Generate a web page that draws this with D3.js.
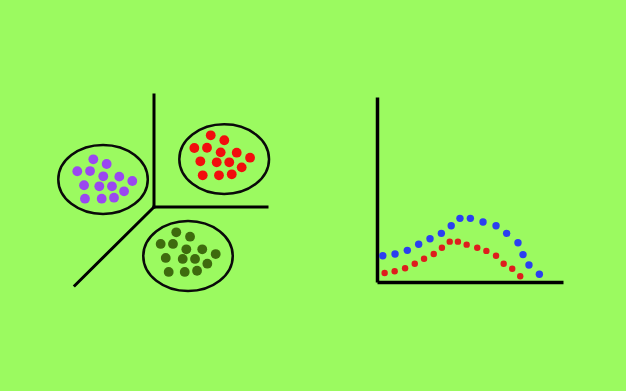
<!DOCTYPE html>
<html>
<head>
<meta charset="utf-8">
<script src="https://cdn.jsdelivr.net/npm/d3@7"></script>
<style>
  html, body { margin: 0; padding: 0; background: #9bfa60; }
  svg { display: block; }
</style>
</head>
<body>
<svg id="chart" width="626" height="391"></svg>
<script>
// ---- data: left panel (clustering), units relative to axis origin ----
var purplePoints = [
  [-5.37, 4.26], [-4.19, 3.84], [-6.79, 3.19], [-5.66, 3.21], [-4.49, 2.74],
  [-3.07, 2.71], [-1.92, 2.32], [-6.19, 1.94], [-4.84, 1.85], [-3.72, 1.85],
  [-2.65, 1.40], [-6.11, 0.74], [-4.63, 0.74], [-3.54, 0.83]
];
var redPoints = [
  [5.02, 6.40], [6.22, 5.96], [3.57, 5.27], [4.69, 5.29], [5.90, 4.88],
  [7.32, 4.85], [8.50, 4.40], [4.10, 4.08], [5.55, 3.99], [6.66, 3.99],
  [7.76, 3.54], [4.31, 2.83], [5.75, 2.83], [6.88, 2.92]
];
var greenPoints = [
  [1.97, -2.26], [3.19, -2.65], [0.59, -3.30], [1.68, -3.30], [2.86, -3.78],
  [4.27, -3.78], [5.46, -4.20], [1.04, -4.55], [2.54, -4.64], [3.63, -4.64],
  [4.72, -5.06], [1.30, -5.80], [2.72, -5.80], [3.81, -5.69]
];
// cluster bounds: centre x, centre y, half-width, half-height
var clusterBounds = [
  [-4.51, 2.46, 3.96, 3.08],
  [6.21, 4.27, 3.97, 3.11],
  [3.01, -4.38, 3.96, 3.13]
];
// three axes out of the origin
var axisEnds = [[0, 10], [10, 0], [-7, -7]];

// ---- data: right panel (two dotted curves) ----
var blueX = [3.1, 9.7, 16.3, 22.4, 28.5, 34.6, 39.9, 44.6, 50.2, 57.0, 64.0, 69.7, 75.8, 78.5, 81.7, 87.3];
var blueY = [14.2, 15.1, 17.1, 20.4, 23.4, 26.3, 30.4, 34.4, 34.4, 32.4, 30.4, 26.3, 21.2, 14.8, 9.2, 4.2];
var redX = [4.1, 9.5, 15.1, 20.3, 25.3, 30.5, 34.9, 39.1, 43.5, 48.2, 53.9, 58.8, 64.0, 68.1, 72.7, 77.0];
var redY = [4.9, 5.8, 7.4, 9.9, 12.6, 15.1, 18.5, 21.8, 21.8, 20.2, 18.5, 16.8, 14.2, 9.9, 7.2, 3.1];

var svg = d3.select("#chart");

// ---------- left panel ----------
var lx = d3.scaleLinear().domain([-10, 10]).range([41, 267]);
var ly = d3.scaleLinear().domain([-10, 10]).range([319, 95]);

var left = svg.append("g").attr("class", "left");

left.selectAll("line.axis")
  .data(axisEnds)
  .enter().append("line")
  .attr("class", "axis")
  .attr("x1", lx(0)).attr("y1", ly(0))
  .attr("x2", function (d) { return lx(d[0]); })
  .attr("y2", function (d) { return ly(d[1]); })
  .attr("stroke", "#000")
  .attr("stroke-width", 3)
  .attr("stroke-linecap", "square");

left.selectAll("ellipse")
  .data(clusterBounds)
  .enter().append("ellipse")
  .attr("cx", function (d) { return lx(d[0]); })
  .attr("cy", function (d) { return ly(d[1]); })
  .attr("rx", function (d) { return lx(d[2]) - lx(0); })
  .attr("ry", function (d) { return ly(0) - ly(d[3]); })
  .attr("fill", "none")
  .attr("stroke", "#0a0a0a")
  .attr("stroke-width", 2.5);

var clusters = [
  { points: purplePoints, color: "#9a47f0" },
  { points: redPoints, color: "#f20d0d" },
  { points: greenPoints, color: "#3e6b0e" }
];

clusters.forEach(function (c) {
  left.append("g")
    .selectAll("circle")
    .data(c.points)
    .enter().append("circle")
    .attr("cx", function (d) { return lx(d[0]); })
    .attr("cy", function (d) { return ly(d[1]); })
    .attr("r", 4.9)
    .attr("fill", c.color);
});

// ---------- right panel ----------
var rx = d3.scaleLinear().domain([0, 100]).range([377, 563]);
var ry = d3.scaleLinear().domain([0, 100]).range([282, 97]);

var right = svg.append("g").attr("class", "right");

right.append("g")
  .attr("transform", "translate(0," + ry(0) + ")")
  .call(d3.axisBottom(rx).ticks(0).tickSize(0).tickSizeOuter(0))
  .call(function (g) { g.select(".domain").attr("stroke", "#000").attr("stroke-width", 3.5); });

right.append("g")
  .attr("transform", "translate(" + rx(0) + ",0)")
  .call(d3.axisLeft(ry).ticks(0).tickSize(0).tickSizeOuter(0))
  .call(function (g) { g.select(".domain").attr("stroke", "#000").attr("stroke-width", 3.5); });

var series = [
  { xs: blueX, ys: blueY, color: "#2b3ff0", r: 3.7 },
  { xs: redX, ys: redY, color: "#de1d1d", r: 3.2 }
];

series.forEach(function (s) {
  right.append("g")
    .selectAll("circle")
    .data(s.xs)
    .enter().append("circle")
    .attr("cx", function (d) { return rx(d); })
    .attr("cy", function (d, i) { return ry(s.ys[i]); })
    .attr("r", s.r)
    .attr("fill", s.color);
});
</script>
</body>
</html>
